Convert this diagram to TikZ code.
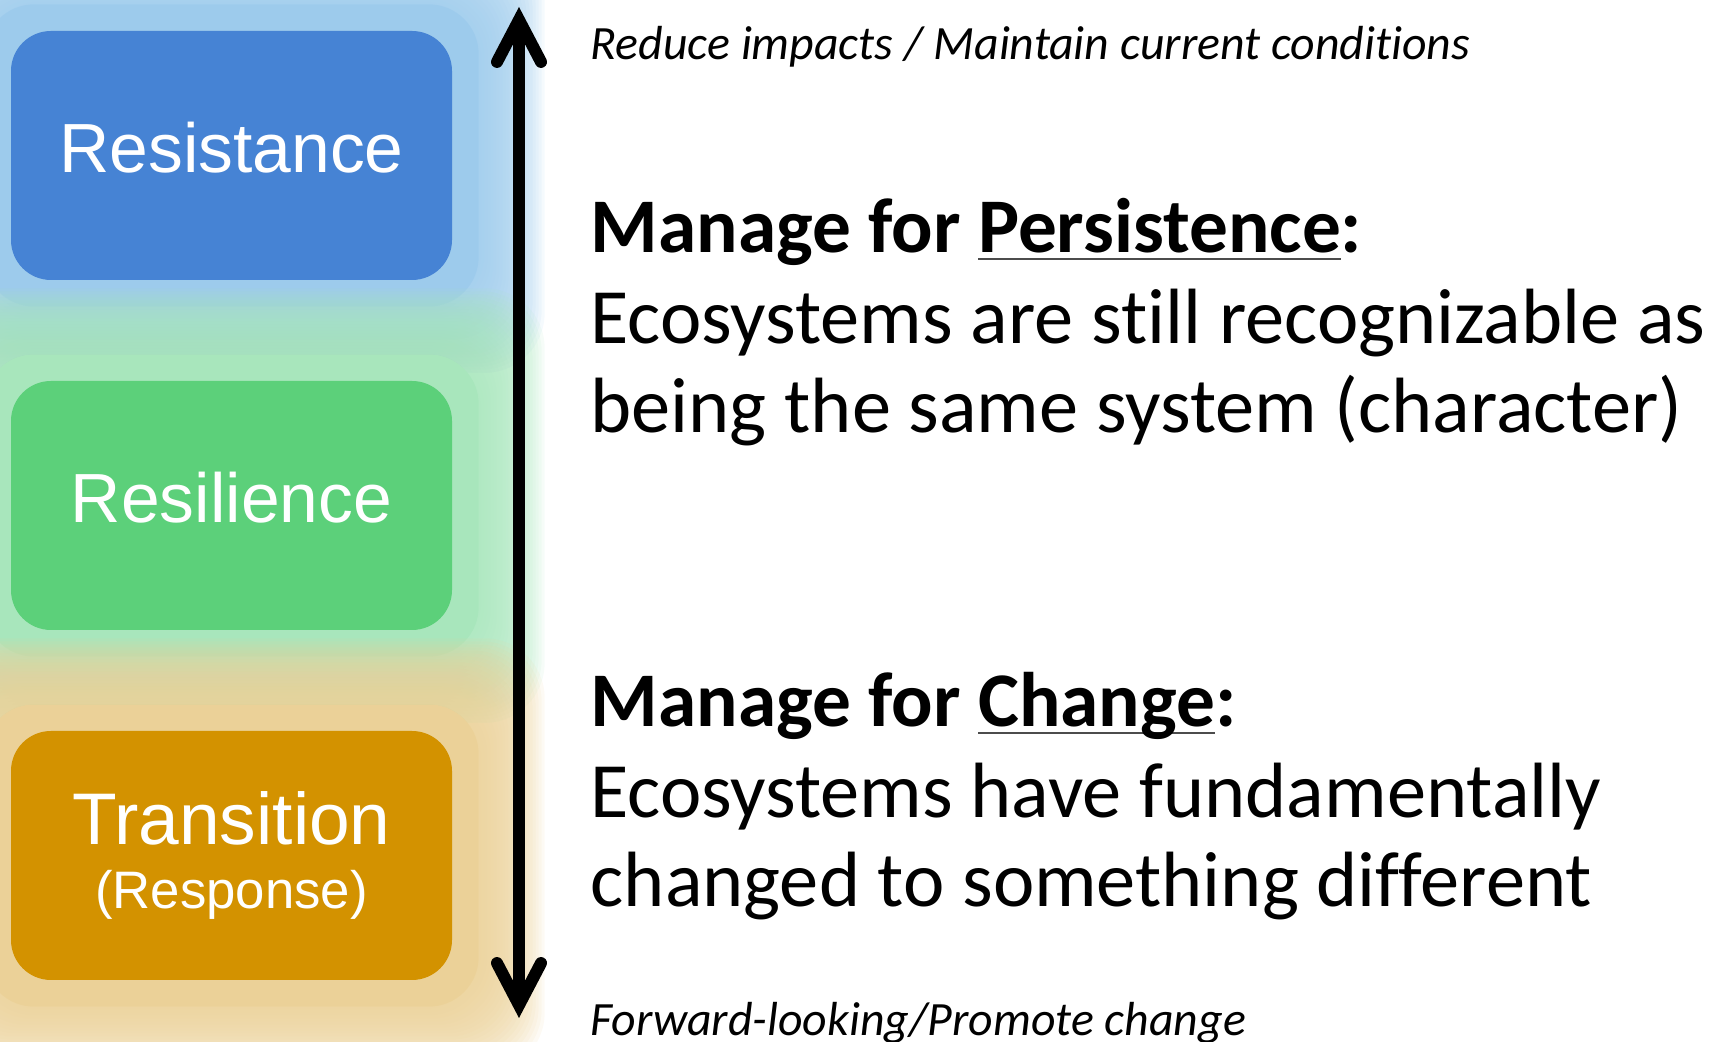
\documentclass[tikz,border=0pt]{standalone}
\usepackage{fontspec}
\setmainfont{Carlito}[Ligatures=NoCommon]
\newfontfamily\boxfont{Liberation Sans}
\usetikzlibrary{arrows.meta,backgrounds}
\definecolor{resblue}{RGB}{70,131,212}
\definecolor{resgreen}{RGB}{92,208,122}
\definecolor{resorange}{RGB}{211,146,0}
\definecolor{glowblue}{RGB}{157,203,236}
\definecolor{glowgreen}{RGB}{168,230,188}
\definecolor{gloworange}{RGB}{235,209,152}
\newcommand{\ulword}[1]{\setbox0\hbox{#1}\rlap{\color{black!70}\rule[-0.07cm]{\wd0}{0.022cm}}\box0}
\newcommand{\glowbox}[2]{%
  \fill[#2,rounded corners=0.5cm] ([shift={(-0.26,0.26)}]#1.north west) rectangle ([shift={(0.26,-0.26)}]#1.south east);
  \foreach \k in {1,...,22}{
    \fill[#2,opacity=0.1,rounded corners=0.6cm] ([shift={(-0.26-0.03*\k,0.26+0.03*\k)}]#1.north west) rectangle ([shift={(0.26+0.03*\k,-0.26-0.03*\k)}]#1.south east);
  }}
\tikzset{
  stagebox/.style={rounded corners=0.4cm,minimum width=4.41cm,minimum height=2.49cm,inner sep=0pt,
    text=white,align=center,font=\boxfont\fontsize{19.8}{18.2}\selectfont},
  raisedtext/.style={text depth=0.16cm},
  bodytext/.style={anchor=base west,inner sep=0pt,font=\fontsize{22.3}{26}\selectfont},
  headtext/.style={bodytext,font=\bfseries\fontsize{22}{26}\selectfont},
  notetext/.style={anchor=base west,inner sep=0pt,font=\itshape\fontsize{13.6}{16}\selectfont},
  scaleline/.style={line width=0.12cm,
    {Straight Barb[length=0.42cm,width=0.44cm,line cap=round,line join=miter]}-{Straight Barb[length=0.42cm,width=0.44cm,line cap=round,line join=miter]}}
}
\begin{document}
\begin{tikzpicture}
    \useasboundingbox (0,0) rectangle (17.2,10.42);
    \node[stagebox,raisedtext,fill=resblue] (resist) at (2.315,8.865) {Resistance};
    \node[stagebox,raisedtext,fill=resgreen] (resil) at (2.315,5.365) {Resilience};
    \node[stagebox,fill=resorange] (trans) at (2.315,1.865) {{\fontsize{20.8}{18.2}\selectfont Transition}\\{\fontsize{15}{18.2}\selectfont(Response)}};
    \begin{scope}[on background layer]
        \clip (0,0) rectangle (17.2,10.42);
        \glowbox{resist}{glowblue}
        \glowbox{resil}{glowgreen}
        \glowbox{trans}{gloworange}
    \end{scope}
    \coordinate (uptip) at (5.19,10.35);
    \coordinate (downtip) at (5.19,0.24);
    \draw[scaleline] (downtip) -- (uptip);
    \node[notetext] (topnote) at (5.90,9.82) {Reduce impacts / Maintain current conditions};
    \node[headtext] (perhead) at (5.90,7.89) {Manage for \ulword{Persistence}:};
    \node[bodytext] (perlineA) at (5.90,6.98) {Ecosystems are still recognizable as};
    \node[bodytext] (perlineB) at (5.90,6.09) {being the same system (character)};
    \node[headtext] (chghead) at (5.90,3.15) {Manage for \ulword{Change}:};
    \node[bodytext] (chglineA) at (5.90,2.24) {Ecosystems have fundamentally};
    \node[bodytext] (chglineB) at (5.90,1.35) {changed to something different};
    \node[notetext] (botnote) at (5.90,0.06) {Forward-looking/Promote change};
\end{tikzpicture}
\end{document}
